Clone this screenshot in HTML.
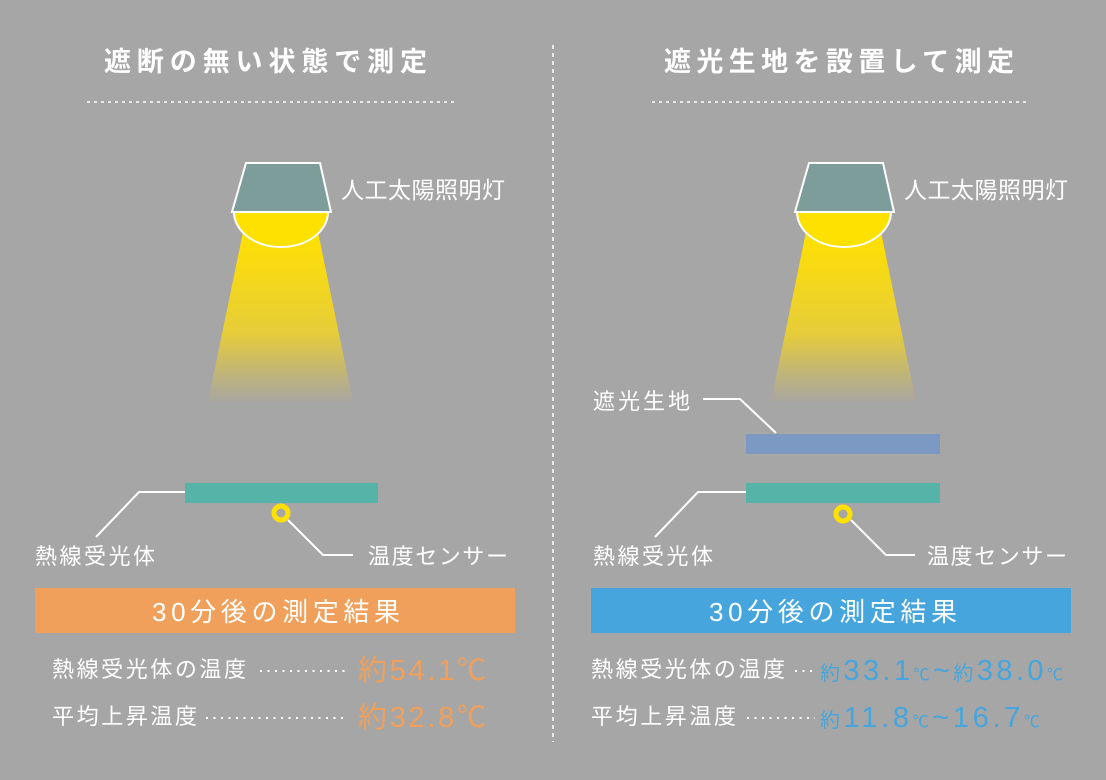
<!DOCTYPE html>
<html><head><meta charset="utf-8"><style>
html,body{margin:0;padding:0;background:#a6a6a6;}
svg{display:block;}
text{font-family:"Liberation Sans","Noto Sans CJK JP",sans-serif;fill:#fff;}
</style></head><body>
<svg width="1106" height="780" viewBox="0 0 1106 780" xmlns="http://www.w3.org/2000/svg">
<defs>
<linearGradient id="beam" x1="0" y1="0" x2="0" y2="1">
<stop offset="0" stop-color="#ffe100"/>
<stop offset="0.6" stop-color="#e6cc3a"/>
<stop offset="1" stop-color="#a8a6a0" stop-opacity="0.9"/>
</linearGradient>
</defs>
<rect width="1106" height="780" fill="#a6a6a6"/>
<line x1="553" y1="45" x2="553" y2="742" stroke="#fff" stroke-width="1.5" stroke-dasharray="4 4"/>

<text x="104" y="71" font-size="27" textLength="323" lengthAdjust="spacing" font-weight="bold">遮断の無い状態で測定</text>
<text x="664" y="71" font-size="27" textLength="350" lengthAdjust="spacing" font-weight="bold">遮光生地を設置して測定</text>
<line x1="87" y1="102" x2="454" y2="102" stroke="#fff" stroke-width="1.5" stroke-dasharray="3 4"/>
<line x1="652" y1="102" x2="1028" y2="102" stroke="#fff" stroke-width="1.5" stroke-dasharray="3 4"/>

<g id="lamp">
<polygon points="243,232 318,232 353,402 208,402" fill="url(#beam)"/>
<path d="M234,212 A47,35 0 0 0 328,212 Z" fill="#ffe100" stroke="#fff" stroke-width="2"/>
<polygon points="246,163 320,163 331,212 232,212" fill="#7c9d9a" stroke="#fff" stroke-width="2"/>
<text x="341" y="198" font-size="23" textLength="164" lengthAdjust="spacing">人工太陽照明灯</text>
</g>
<use href="#lamp" x="563"/>

<rect x="185" y="483" width="193" height="20" fill="#56b3a8"/>
<circle cx="281" cy="513" r="7" fill="none" stroke="#ffe100" stroke-width="5"/>
<polyline points="185,492 139,492 96,537" fill="none" stroke="#fff" stroke-width="2"/>
<polyline points="288,520 323,555 353,555" fill="none" stroke="#fff" stroke-width="2"/>
<text x="35" y="564" font-size="22" textLength="120" lengthAdjust="spacing">熱線受光体</text>
<text x="368" y="564" font-size="22" textLength="140" lengthAdjust="spacing">温度センサー</text>

<rect x="746" y="434" width="194" height="20" fill="#7b99c2"/>
<rect x="746" y="483" width="194" height="20" fill="#56b3a8"/>
<circle cx="843" cy="514" r="7" fill="none" stroke="#ffe100" stroke-width="5"/>
<polyline points="703,399 740,399 776,433" fill="none" stroke="#fff" stroke-width="2"/>
<polyline points="746,492 698,492 655,537" fill="none" stroke="#fff" stroke-width="2"/>
<polyline points="851,520 886,555 915,555" fill="none" stroke="#fff" stroke-width="2"/>
<text x="593" y="409" font-size="22" textLength="97" lengthAdjust="spacing">遮光生地</text>
<text x="593" y="564" font-size="22" textLength="120" lengthAdjust="spacing">熱線受光体</text>
<text x="927" y="564" font-size="22" textLength="140" lengthAdjust="spacing">温度センサー</text>

<rect x="35" y="588" width="480" height="45" fill="#f0a05a"/>
<text x="152" y="621" font-size="26" textLength="248" lengthAdjust="spacing">30分後の測定結果</text>
<rect x="591" y="588" width="480" height="45" fill="#45a5dc"/>
<text x="709" y="621" font-size="26" textLength="248" lengthAdjust="spacing">30分後の測定結果</text>

<text x="52" y="677" font-size="22" textLength="194" lengthAdjust="spacing">熱線受光体の温度</text>
<line x1="260" y1="671" x2="345" y2="671" stroke="#fff" stroke-width="2" stroke-dasharray="2 5.5"/>
<text x="358" y="680" font-size="29" textLength="128" lengthAdjust="spacing" style="fill:#f0a05a">約54.1℃</text>
<text x="52" y="724" font-size="22" textLength="145" lengthAdjust="spacing">平均上昇温度</text>
<line x1="206" y1="718" x2="345" y2="718" stroke="#fff" stroke-width="2" stroke-dasharray="2 5.5"/>
<text x="358" y="727" font-size="29" textLength="128" lengthAdjust="spacing" style="fill:#f0a05a">約32.8℃</text>

<text x="591" y="677" font-size="22" textLength="194" lengthAdjust="spacing">熱線受光体の温度</text>
<line x1="795" y1="671" x2="815" y2="671" stroke="#fff" stroke-width="2" stroke-dasharray="2 5.5"/>
<text x="820" y="680" font-size="29" textLength="243" lengthAdjust="spacing" style="fill:#45a5dc"><tspan font-size="20">約</tspan>33.1<tspan font-size="16">℃</tspan>~<tspan font-size="20">約</tspan>38.0<tspan font-size="16">℃</tspan></text>
<text x="591" y="724" font-size="22" textLength="145" lengthAdjust="spacing">平均上昇温度</text>
<line x1="747" y1="718" x2="815" y2="718" stroke="#fff" stroke-width="2" stroke-dasharray="2 5.5"/>
<text x="820" y="727" font-size="29" textLength="220" lengthAdjust="spacing" style="fill:#45a5dc"><tspan font-size="20">約</tspan>11.8<tspan font-size="16">℃</tspan>~16.7<tspan font-size="16">℃</tspan></text>
</svg>
</body></html>
